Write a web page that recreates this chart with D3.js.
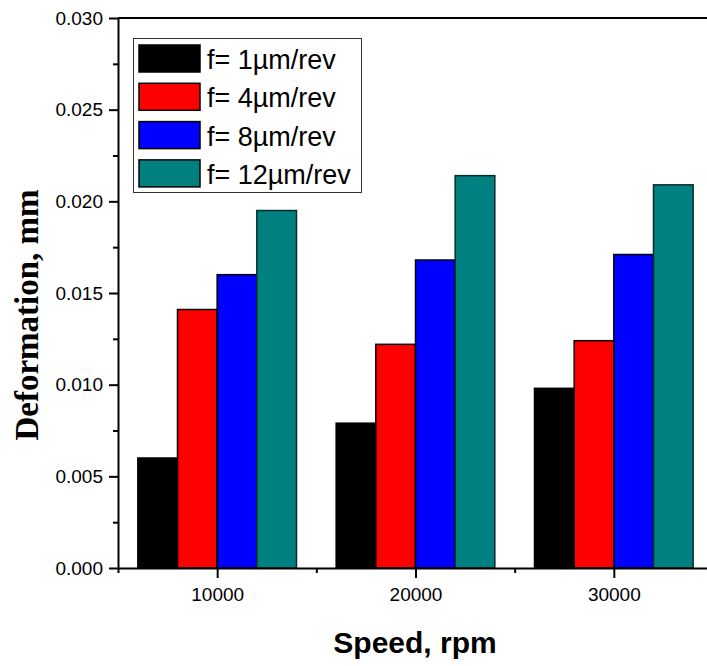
<!DOCTYPE html>
<html lang="en">
<head>
	<meta charset="UTF-8">
	<title>deformation bars</title>
	<style>
		html, body { margin: 0; background: #fff; overflow: hidden; }
		svg { display: block; }
		text { font-family: Arial, "Liberation Sans", sans-serif; fill: #000; }
	</style>
</head>
<body>
	<svg id="container" width="707" height="666"></svg>
<script src="https://cdn.jsdelivr.net/npm/d3@7"></script>
<script>
	// data
	let speeds = [10000, 20000, 30000]
	let feeds = ["f= 1\u00b5m/rev", "f= 4\u00b5m/rev", "f= 8\u00b5m/rev", "f= 12\u00b5m/rev"]
	let colors = ["#000000", "#ff0000", "#0000ff", "#008080"]
	let f1 = [0.0060, 0.0079, 0.0098]
	let f4 = [0.0141, 0.0122, 0.0124]
	let f8 = [0.0160, 0.0168, 0.0171]
	let f12 = [0.0195, 0.0214, 0.0209]
	let yTicks = [0, 0.005, 0.010, 0.015, 0.020, 0.025, 0.030]
	let yMinor = [0.0025, 0.0075, 0.0125, 0.0175, 0.0225, 0.0275]
	let xTicks = [10000, 20000, 30000]
	let xMinor = [5000, 15000, 25000]

	let series = [f1, f4, f8, f12]
	let svg = d3.select("#container")

	let x = d3.scaleLinear().domain([5000, 35000]).range([118, 713])
	let y = d3.scaleLinear().domain([0, 0.030]).range([568, 18])
	let barW = 2000

	// bars
	series.forEach((vals, i) => {
		svg.append("g")
			.selectAll("rect")
			.data(vals)
			.join("rect")
			.attr("x", (d, j) => x(speeds[j] + (i - 2) * barW))
			.attr("width", x(barW) - x(0))
			.attr("y", d => y(d))
			.attr("height", d => y(0) - y(d))
			.attr("fill", colors[i])
			.attr("stroke", i == 3 ? "#0a2a2a" : "#000")
			.attr("stroke-width", 1.5)
	})

	// top frame line
	svg.append("line")
		.attr("x1", x(5000)).attr("x2", 707)
		.attr("y1", y(0.030)).attr("y2", y(0.030))
		.attr("stroke", "#000").attr("stroke-width", 2)

	// y axis
	svg.append("g")
		.attr("transform", "translate(" + x(5000) + ",0)")
		.call(d3.axisLeft(y).tickValues(yTicks).tickFormat(d3.format(".3f")).tickSize(9).tickSizeOuter(0).tickPadding(6))
	svg.append("g")
		.attr("transform", "translate(" + x(5000) + ",0)")
		.call(d3.axisLeft(y).tickValues(yMinor).tickFormat("").tickSize(5))
		.select(".domain").remove()

	// x axis
	svg.append("g")
		.attr("transform", "translate(0," + y(0) + ")")
		.call(d3.axisBottom(x).tickValues(xTicks).tickFormat(d3.format("d")).tickSize(10).tickSizeOuter(0).tickPadding(10))
	svg.append("g")
		.attr("transform", "translate(0," + y(0) + ")")
		.call(d3.axisBottom(x).tickValues(xMinor).tickFormat("").tickSize(5))
		.select(".domain").remove()

	svg.selectAll(".domain").attr("stroke-width", 2)
	svg.selectAll(".tick line").attr("stroke-width", 2)
	svg.selectAll(".tick text").style("font-size", "19px").style("font-family", "Arial, 'Liberation Sans', sans-serif")

	// axis titles
	svg.append("text")
		.attr("x", 415).attr("y", 653)
		.attr("text-anchor", "middle")
		.style("font-size", "30px").style("font-weight", "bold")
		.text("Speed, rpm")

	svg.append("text")
		.attr("transform", "translate(38,315) rotate(-90)")
		.attr("text-anchor", "middle")
		.style("font-family", "'Liberation Serif', 'Times New Roman', serif")
		.style("font-size", "33px").style("font-weight", "bold")
		.text("Deformation, mm")

	// legend
	let legend = svg.append("g")
	legend.append("rect")
		.attr("x", 133.5).attr("y", 38.5).attr("width", 228).attr("height", 154)
		.attr("fill", "#fff").attr("stroke", "#333").attr("stroke-width", 1)
	feeds.forEach((name, i) => {
		legend.append("rect")
			.attr("x", 139).attr("y", 45 + i * 38.3)
			.attr("width", 61).attr("height", 27)
			.attr("fill", colors[i]).attr("stroke", "#000").attr("stroke-width", 1.5)
		legend.append("text")
			.attr("x", 207).attr("y", 69 + i * 38.3)
			.style("font-size", "27px")
			.text(name)
	})
</script>
</body>
</html>
